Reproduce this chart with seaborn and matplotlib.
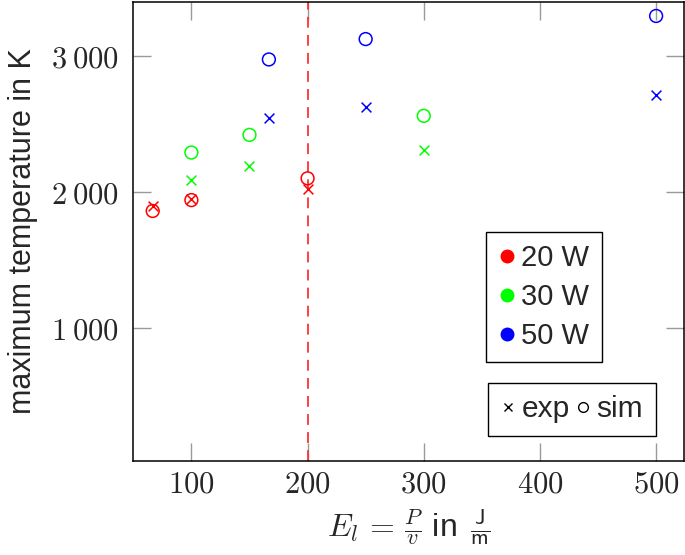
import numpy as np
import pandas as pd
import matplotlib
matplotlib.use("Agg")
import matplotlib.pyplot as plt
from matplotlib.lines import Line2D
import seaborn as sns

# ---- data ----
powers = ["20 W", "30 W", "50 W"]
colors = ["#ff0000", "#00ff00", "#0000ff"]
E_20 = [66.7, 100, 200]
E_30 = [100, 150, 300]
E_50 = [166.7, 250, 500]
exp_20 = [1895, 1945, 2020]
exp_30 = [2090, 2190, 2310]
exp_50 = [2545, 2625, 2710]
sim_20 = [1860, 1940, 2100]
sim_30 = [2290, 2420, 2560]
sim_50 = [2975, 3125, 3295]
xticks = [100, 200, 300, 400, 500]
xtick_labels = ["$100$", "$200$", "$300$", "$400$", "$500$"]
yticks = [1000, 2000, 3000]
ytick_labels = [r"$1\:000$", r"$2\:000$", r"$3\:000$"]
threshold = 200

rows = []
for p, E, ex, si in zip(powers, [E_20, E_30, E_50], [exp_20, exp_30, exp_50], [sim_20, sim_30, sim_50]):
    for e, v in zip(E, ex):
        rows.append(dict(E=e, T=v, power=p, kind="exp"))
    for e, v in zip(E, si):
        rows.append(dict(E=e, T=v, power=p, kind="sim"))
df = pd.DataFrame(rows)

sns.set_theme(style="ticks")
plt.rcParams["font.family"] = ["Liberation Sans", "DejaVu Sans"]
plt.rcParams["mathtext.fontset"] = "cm"

fig = plt.figure(figsize=(6.85, 5.55), dpi=100)
ax = fig.add_axes([133.3 / 685, 1 - 461 / 555, (684 - 133.3) / 685, (461 - 1.7) / 555])

ax.axvline(threshold, color="#ff3333", lw=1.3, ls=(0, (6, 4)), zorder=1)

for p, c in zip(powers, colors):
    d = df[(df.power == p) & (df.kind == "exp")]
    sns.scatterplot(data=d, x="E", y="T", color=c, marker="x", s=50, linewidth=1.1, ax=ax, legend=False, zorder=3)
    d = df[(df.power == p) & (df.kind == "sim")]
    sns.scatterplot(data=d, x="E", y="T", color=c, marker="o", s=85, facecolor="none", edgecolor=c,
                    linewidth=1.1, ax=ax, legend=False, zorder=3)

ax.set_xlim(50, 524)
ax.set_ylim(20, 3400)
ax.set_xticks(xticks)
ax.set_xticklabels(xtick_labels)
ax.set_yticks(yticks)
ax.set_yticklabels(ytick_labels)
ax.tick_params(direction="in", length=13, width=1.0, color="#999999", top=True, right=True,
               labelsize=22, pad=6)
ax.tick_params(axis="y", pad=10)
for s in ax.spines.values():
    s.set_linewidth(1.1)
    s.set_color("black")

ax.set_xlabel(r"$E_l\,=\,\frac{P}{v}$ in $\,\frac{\mathsf{J}}{\mathsf{m}}$", fontsize=23, labelpad=5)
ax.set_ylabel("maximum temperature in K", fontsize=22, labelpad=10)

h1 = [Line2D([], [], ls="none", marker="o", ms=9, color=c) for c in colors]
leg1 = ax.legend(h1, powers, loc="upper left", bbox_to_anchor=(0.640, 0.4986), borderaxespad=0,
                 fontsize=21, frameon=True, fancybox=False, edgecolor="black", framealpha=1,
                 handlelength=0.6, handletextpad=0.2, borderpad=0.42, labelspacing=0.37)
leg1.get_frame().set_linewidth(1.0)
ax.add_artist(leg1)

h2 = [Line2D([], [], ls="none", marker="x", ms=6, mew=1.0, color="black"),
      Line2D([], [], ls="none", marker="o", ms=7, mew=1.0, mfc="none", color="black")]
leg2 = ax.legend(h2, ["exp", "sim"], loc="upper left", bbox_to_anchor=(0.644, 0.170), borderaxespad=0,
                 ncol=2, fontsize=21.5, frameon=True, fancybox=False, edgecolor="black", framealpha=1,
                 handlelength=0.5, handletextpad=0.2, borderpad=0.42, columnspacing=0.2)
leg2.get_frame().set_linewidth(1.0)

fig.savefig("out.png", dpi=100)
